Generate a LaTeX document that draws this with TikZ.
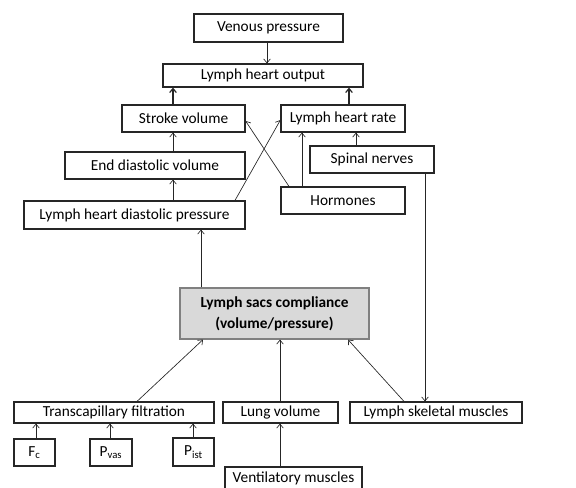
\documentclass[tikz,border=0pt]{standalone}
\usepackage{fontspec}
\setmainfont{Carlito}
\usetikzlibrary{arrows.meta}
\begin{document}
\begin{tikzpicture}[x=0.75pt,y=-0.75pt,
  box/.style={draw=black!85, line width=0.9pt, inner sep=0pt, font=\fontsize{11.5}{13}\selectfont},
  rect/.style 2 args={minimum width=#1*0.75pt, minimum height=#2*0.75pt},
  cbox/.style={box, draw=black!50, fill=black!15, align=center, font=\bfseries\fontsize{11.5}{15.5}\selectfont},
  arr/.style={-{Straight Barb[length=3pt,width=5pt]}, line width=0.5pt, draw=black!85},
  arrthick/.style={arr, line width=0.9pt}]
\useasboundingbox (0,0) rectangle (576,487);
% helper coordinates
\foreach \x in {36,110,137,173,193,201,203,235,267,280,289,302,348,349,356,404,425}
  \coordinate (x\x) at (\x,0);
\coordinate (y120) at (0,120);
\coordinate (y121) at (0,121);
% nodes
\node[box, rect={149}{28}] (vp) at (268.5,28) {Venous pressure};
\node[box, rect={200}{23}] (lho) at (263,75.5) {Lymph heart output};
\node[box, rect={123}{27}] (sv) at (183.5,118.5) {Stroke volume};
\node[box, rect={124}{27}] (lhr) at (343,118.5) {Lymph heart rate};
\node[box, rect={180}{27}] (edv) at (155,165.5) {End diastolic volume};
\node[box, rect={124}{27}] (sn) at (372,159.5) {Spinal nerves};
\node[box, rect={124}{27}] (hor) at (343,200.5) {Hormones};
\node[box, rect={221}{28}] (lhdp) at (134.5,215) {Lymph heart diastolic pressure};
\node[cbox, rect={189}{51}] (comp) at (274.5,313.5) {Lymph sacs compliance\\(volume/pressure)};
\node[box, rect={200}{21}] (tf) at (114,412.5) {Transcapillary filtration};
\node[box, rect={115}{21}] (lv) at (280.5,412.5) {Lung volume};
\node[box, rect={172}{21}] (lsm) at (436,412.5) {Lymph skeletal muscles};
\node[box, rect={41}{27}] (fc) at (34.5,452.5) {F\textsubscript{c}};
\node[box, rect={42}{27}] (pvas) at (111,452.5) {P\textsubscript{vas}};
\node[box, rect={41}{28}] (pist) at (193.5,452) {P\textsubscript{ist}};
\node[box, rect={137}{23}] (vm) at (293.5,478.5) {Ventilatory muscles};
% connectors
\draw[arr] (vp.south -| x267) -- (lho.north -| x267);
\draw[arrthick] (sv.north -| x173) -- (lho.south -| x173);
\draw[arrthick] (lhr.north -| x349) -- (lho.south -| x349);
\draw[arr] (edv.north -| x173) -- (sv.south -| x173);
\draw[arr] (lhdp.north -| x173) -- (edv.south -| x173);
\draw[arr] (lhdp.north -| x235) -- (lhr.west |- y120);
\draw[arr] (hor.north -| x289) -- (sv.east |- y121);
\draw[arr] (hor.north -| x302) -- (lhr.south -| x302);
\draw[arr] (sn.north -| x356) -- (lhr.south -| x356);
\draw[arr] (sn.south -| x425) -- (lsm.north -| x425);
\draw[arr] (comp.north -| x201) -- (lhdp.south -| x201);
\draw[arr] (tf.north -| x137) -- (comp.south -| x203);
\draw[arr] (lv.north -| x280) -- (comp.south -| x280);
\draw[arr] (lsm.north -| x404) -- (comp.south -| x348);
\draw[arr] (fc.north -| x36) -- (tf.south -| x36);
\draw[arr] (pvas.north -| x110) -- (tf.south -| x110);
\draw[arr] (pist.north -| x193) -- (tf.south -| x193);
\draw[arr] (vm.north -| x280) -- (lv.south -| x280);
\end{tikzpicture}
\end{document}
